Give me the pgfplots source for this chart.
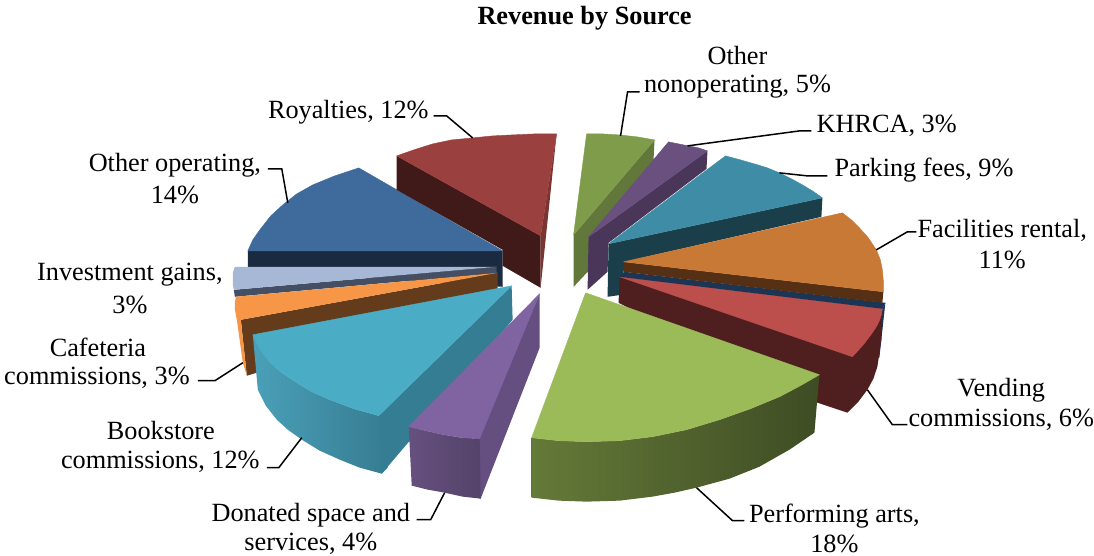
\documentclass[border=0pt]{standalone}
\usepackage{pgfplots}
\pgfplotsset{compat=1.18}
\usepackage{fontspec}
\setmainfont{Liberation Serif}
\definecolor{bluetop}{HTML}{3E6A9C}
\definecolor{blueside}{HTML}{1A2A40}
\definecolor{redtop}{HTML}{9A403E}
\definecolor{redside}{HTML}{401A18}
\definecolor{redright}{HTML}{7A3533}
\definecolor{gntop}{HTML}{7F9C4A}
\definecolor{gnside}{HTML}{62783A}
\definecolor{putop}{HTML}{69507F}
\definecolor{puside}{HTML}{493659}
\definecolor{tltop}{HTML}{3E8CA5}
\definecolor{tlside}{HTML}{1A3F4A}
\definecolor{ortop}{HTML}{C97936}
\definecolor{orside}{HTML}{553014}
\definecolor{vdtop}{HTML}{BC4E4C}
\definecolor{vdside}{HTML}{4F1F1F}
\definecolor{edge}{HTML}{1C3554}
\definecolor{grtop}{HTML}{9BBB59}
\definecolor{grl}{HTML}{647A38}
\definecolor{grm}{HTML}{4B5B2B}
\definecolor{grd}{HTML}{3F4C24}
\definecolor{dptop}{HTML}{8064A2}
\definecolor{dpside}{HTML}{644F80}
\definecolor{dpl}{HTML}{66507F}
\definecolor{dpd}{HTML}{544369}
\definecolor{bktop}{HTML}{4BACC6}
\definecolor{bkside}{HTML}{357D92}
\definecolor{bkl}{HTML}{4AA0B8}
\definecolor{bkd}{HTML}{367C92}
\definecolor{cftop}{HTML}{F79646}
\definecolor{cfside}{HTML}{643C1C}
\definecolor{ivtop}{HTML}{A7B8D6}
\definecolor{ivside}{HTML}{454F63}
\newcommand{\lab}[4]{\node[anchor=#1,inner sep=0pt,font=\fontsize{26.4}{26}\selectfont] at (axis cs:#2,#3) {#4};}
\newcommand{\lead}[1]{\addplot[black,line width=1.5pt] coordinates {#1};}
\tikzset{face/.style={fill=#1,draw=#1,line width=0.4pt,line join=round}}
\begin{document}
\begin{tikzpicture}
\begin{axis}[scale only axis,width=1094bp,height=556bp,xmin=0,xmax=1094,ymin=0,ymax=556,y dir=reverse,hide axis,clip=false]
\path (axis cs:0,0) rectangle (axis cs:1094,556);
% Other operating
\addplot[fill=blueside,draw=none] coordinates {(248,251)(503,251)(503,287)(248,270)};
\addplot[face=bluetop] coordinates {(503,251)(248,251)(253,240)(260,230)(271,216)(283,205)(297,194)(313,185)(335,176)(359,168)} -- cycle;
% Royalties
\addplot[fill=redside,draw=none] coordinates {(397,156)(541,236)(541,288)(503,266)(503,250)(397,190)};
\addplot[fill=redright,draw=none] coordinates {(557,134)(541,236)(541,288)};
\addplot[face=redtop] coordinates {(541,236)(397,156)(414,150)(433,144)(452,140)(473,138)(493,136)(513,135)(535,134)(557,134)} -- cycle;
% Investment
\addplot[fill=ivside,draw=none] coordinates {(234,290)(497,267)(497,273)(235,297)};
\addplot[fill=ivtop,draw=none] coordinates {(497,267)(235,267)(233,273)(233,279)(233,285)(234,290)};
% Cafeteria
\addplot[fill=cfside,draw=none] coordinates {(498,273)(241,320)(247,376)(498,300)};
\addplot[fill=cftop,draw=none] coordinates {(237,320)(241,320)(247,376)(243,363)};
\addplot[fill=cftop,draw=none] coordinates {(498,273)(236,297)(235,303)(235,309)(236,315)(237,320)(241,320)};
% Bookstore
\addplot[left color=bkl,right color=bkd,draw=none] coordinates {(253,335)(260,350)(270,363)(282,373)(297,383)(312,392)(330,400)(354,409)(379,416)(388,416)(388,468)(382,474)(360,468)(340,460)(320,451)(302,440)(288,430)(277,420)(266,406)(258,390)};
\addplot[fill=bkside,draw=none] coordinates {(512,286)(379,416)(382,474)(513,320)};
\addplot[face=bktop] coordinates {(512,286)(253,335)(260,350)(270,363)(282,373)(297,383)(312,392)(330,400)(354,409)(379,416)} -- cycle;
% Donated
\addplot[fill=dpside,draw=none] coordinates {(540,294)(475,439)(475,497)(481,499)(540,348)};
\addplot[left color=dpl,right color=dpd,draw=none] coordinates {(409,427)(426,431)(444,435)(462,438)(480,439)(481,499)(463,497)(445,493)(428,490)(412,486)};
\addplot[face=dptop] coordinates {(540,294)(409,427)(426,431)(444,435)(462,438)(480,439)} -- cycle;
% Other nonoperating
\addplot[fill=gnside,draw=none] coordinates {(574,235)(655,140)(654,160)(595,232)(590,270)(574,287)};
\addplot[face=gntop] coordinates {(574,235)(587,134)(603,134)(620,135)(638,137)(655,140)} -- cycle;
% KHRCA
\addplot[fill=puside,draw=none] coordinates {(589,237)(708,151)(707,169)(609,243)(608,272)(588,290)};
\addplot[face=putop] coordinates {(589,237)(669,142)(679,144)(689,146)(699,148)(708,151)} -- cycle;
% Parking
\addplot[fill=tlside,draw=none] coordinates {(609,244)(823,198)(822,217)(625,262)(622,295)(608,297)};
\addplot[face=tltop] coordinates {(609,244)(726,156)(741,160)(755,164)(768,168)(780,173)(792,179)(803,185)(813,191)(823,198)} -- cycle;
% Vending
\addplot[fill=edge,draw=none] coordinates {(886,303)(880,358)(878,358)(883,309)};
\addplot[fill=vdside,draw=none] coordinates {(620,277)(619,303)(818,403)(848,413)(859,402)(868,390)(874,379)(878,367)(882,340)(883,309)};
\addplot[face=vdtop] coordinates {(620,277)(883,309)(882,315)(880,321)(877,327)(873,333)(864,345)(853,357)} -- cycle;
\addplot[fill=edge,draw=none] coordinates {(625,272)(886,303)(883,309)(620,277)};
% Facilities
\addplot[fill=orside,draw=none] coordinates {(624,262)(884,292)(883,303)(624,272)};
\addplot[face=ortop] coordinates {(624,262)(843,213)(852,220)(860,228)(869,238)(877,250)(881,260)(883,270)(884,281)(884,292)} -- cycle;
% Performing
\addplot[left color=grl,middle color=grm,right color=grd,draw=none] coordinates {(532,438)(559,441)(587,442)(620,441)(653,437)(687,430)(720,420)(751,409)(780,397)(801,386)(820,375)(815,433)(790,450)(760,467)(730,479)(697,488)(675,493)(653,497)(620,501)(587,502)(559,501)(532,498)};
\addplot[face=grtop] coordinates {(586,293)(820,375)(801,386)(780,397)(751,409)(720,420)(687,430)(653,437)(620,441)(587,442)(559,441)(532,438)} -- cycle;
% Leaders
\lead{(434,116)(447,116)(473,138)}
\lead{(268,169)(282,169)(288,203)}
\lead{(640,92)(628,92)(621,136)}
\lead{(688,146)(800,131)(812,131)}
\lead{(780,173)(808,176)(828,176)}
\lead{(877,250)(908,232)(917,232)}
\lead{(868,390)(893,425)(908,425)}
\lead{(697,488)(733,521)(745,521)}
\lead{(302,438)(279,468)(267,468)}
\lead{(445,493)(431,520)(417,520)}
\lead{(198,381)(215,381)(243,363)}
% Labels
\node[anchor=center,inner sep=0pt,font=\fontsize{26.4}{26}\selectfont\bfseries] at (axis cs:585,18) {Revenue by Source};
\lab{center}{738}{56}{Other}
\lab{center}{738}{87}{nonoperating, 5\%}
\lab{west}{817}{126}{KHRCA, 3\%}
\lab{west}{835}{170}{Parking fees, 9\%}
\lab{center}{1003}{231}{Facilities rental,}
\lab{center}{1003}{260}{11\%}
\lab{center}{1002}{390}{Vending}
\lab{center}{1002}{420}{commissions, 6\%}
\lab{center}{835}{516}{Performing arts,}
\lab{center}{835}{544}{18\%}
\lab{center}{311}{516}{Donated space and}
\lab{center}{311}{544}{services, 4\%}
\lab{center}{161}{431}{Bookstore}
\lab{east}{260}{462}{commissions, 12\%}
\lab{center}{98}{348}{Cafeteria}
\lab{east}{190}{378}{commissions, 3\%}
\lab{center}{130}{275}{Investment gains,}
\lab{center}{130}{305}{3\%}
\lab{center}{175}{165}{Other operating,}
\lab{center}{175}{195}{14\%}
\lab{west}{268}{112}{Royalties, 12\%}
\end{axis}
\end{tikzpicture}
\end{document}
